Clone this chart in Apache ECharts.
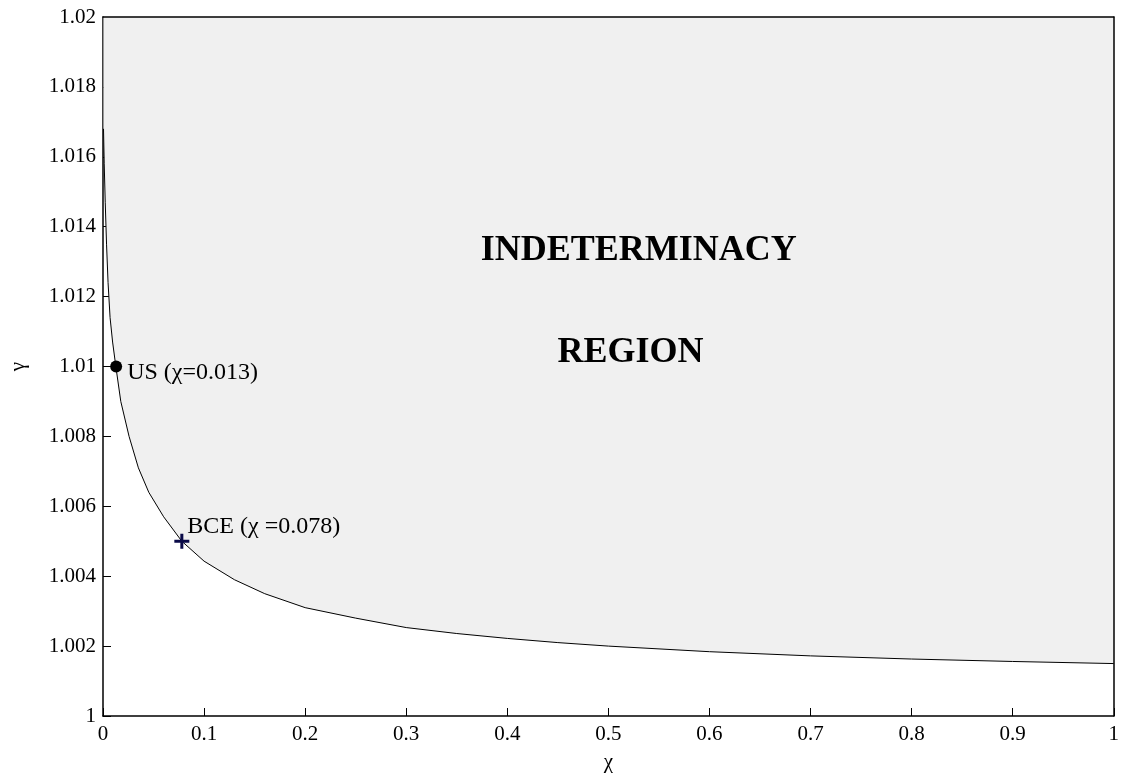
<!DOCTYPE html>
<html>
<head>
<meta charset="utf-8">
<title>Indeterminacy region</title>
<script src="https://cdn.jsdelivr.net/npm/echarts@6/dist/echarts.min.js"></script>
<style>
  html, body { margin: 0; padding: 0; background: #fff; }
  #chart { width: 1122px; height: 779px; }
</style>
</head>
<body>
<div id="chart"></div>
<script>
// boundary curve (chi, gamma)
const curveChi = [
  0.0005, 0.0012, 0.0022, 0.0035, 0.005, 0.007, 0.0095, 0.0127, 0.0176, 0.0258,
  0.035, 0.0453, 0.06, 0.078, 0.1, 0.13, 0.16, 0.2, 0.25, 0.3,
  0.35, 0.4, 0.45, 0.5, 0.6, 0.7, 0.8, 0.9, 1.0
]
const curveGamma = [
  1.0168, 1.0158, 1.0147, 1.0135, 1.0124, 1.0114, 1.0107, 1.0100, 1.0090, 1.0080,
  1.0071, 1.0064, 1.0057, 1.0050, 1.00443, 1.0039, 1.0035, 1.0031, 1.0028, 1.00253,
  1.00236, 1.00222, 1.0021, 1.0020, 1.00184, 1.00172, 1.00163, 1.00156, 1.0015
]

// marked points
const usPoint  = [0.013, 1.01]
const bcePoint = [0.078, 1.005]
const usLabel  = 'US (χ=0.013)'
const bceLabel = 'BCE (χ =0.078)'

// region caption anchors
const regionText = [
  { text: 'INDETERMINACY', at: [0.53, 1.0133] },
  { text: 'REGION', at: [0.522, 1.0104] }
]

// tick labels
const xTickLabels = ['0', '0.1', '0.2', '0.3', '0.4', '0.5', '0.6', '0.7', '0.8', '0.9', '1']
const yTickLabels = ['1', '1.002', '1.004', '1.006', '1.008', '1.01', '1.012', '1.014', '1.016', '1.018', '1.02']

const serif = '"Liberation Serif", "Times New Roman", serif'
const axisLineStyle = { color: '#000', width: 1.5 }

const chart = echarts.init(document.getElementById('chart'))

// ticks sit under the shaded patch (like the original), so main axes stay at low z
const mainX = {
  type: 'value',
  min: 0,
  max: 1,
  interval: 0.1,
  z: 0,
  axisLine: { show: true, onZero: false, lineStyle: axisLineStyle },
  axisTick: { show: true, inside: true, length: 8, lineStyle: { color: '#000', width: 1 } },
  splitLine: { show: false }
}
const mainY = {
  type: 'value',
  min: 1,
  max: 1.02,
  interval: 0.002,
  z: 0,
  axisLine: { show: true, onZero: false, lineStyle: axisLineStyle },
  axisTick: { show: true, inside: true, length: 8, lineStyle: { color: '#000', width: 1 } },
  splitLine: { show: false }
}
// box edges on top/right, drawn above the patch
const boxEdge = {
  type: 'value',
  z: 5,
  axisLine: { show: true, onZero: false, lineStyle: axisLineStyle },
  axisTick: { show: false },
  axisLabel: { show: false },
  splitLine: { show: false }
}

const labelFont = { color: '#000', fontFamily: serif, textBorderWidth: 0, opacity: 1 }

chart.setOption({
  animation: false,
  backgroundColor: '#fff',
  grid: { left: 97, right: 4, top: 17, bottom: 63, containLabel: false },
  xAxis: [
    {
      ...mainX,
      position: 'bottom',
      name: 'χ',
      nameLocation: 'middle',
      nameGap: 36,
      nameTextStyle: { ...labelFont, fontSize: 21 },
      axisLabel: {
        ...labelFont,
        fontSize: 21,
        margin: 8,
        formatter: (v, i) => xTickLabels[i]
      }
    },
    { ...boxEdge, position: 'top', min: 0, max: 1 }
  ],
  yAxis: [
    {
      ...mainY,
      position: 'left',
      name: 'γ',
      nameLocation: 'middle',
      nameRotate: 90,
      nameGap: 74,
      nameTextStyle: { ...labelFont, fontSize: 21 },
      axisLabel: {
        ...labelFont,
        fontSize: 21,
        margin: 7,
        formatter: (v, i) => yTickLabels[i]
      }
    },
    { ...boxEdge, position: 'right', min: 1, max: 1.02 }
  ],
  series: [
    {
      name: 'boundary',
      type: 'line',
      smooth: false,
      showSymbol: false,
      silent: true,
      data: curveChi.map((c, i) => [c, curveGamma[i]]),
      lineStyle: { color: '#000', width: 1 },
      areaStyle: { color: '#f0f0f0', origin: 'end', opacity: 1 },
      z: 2
    },
    {
      name: 'US',
      type: 'scatter',
      data: [usPoint],
      symbol: 'circle',
      symbolSize: 12,
      itemStyle: { color: '#000', opacity: 1 },
      label: {
        show: true,
        position: 'right',
        distance: 5,
        offset: [0, 6],
        formatter: usLabel,
        ...labelFont,
        fontSize: 24
      },
      z: 4
    },
    {
      name: 'BCE',
      type: 'scatter',
      data: [bcePoint],
      symbol: 'path://M4,0h2v4h4v2h-4v4h-2v-4h-4v-2h4z',
      symbolSize: 15,
      itemStyle: { color: '#0a0a48', opacity: 1 },
      label: {
        show: true,
        position: 'right',
        distance: 0,
        offset: [-2, -15],
        formatter: bceLabel,
        ...labelFont,
        fontSize: 24
      },
      z: 4
    },
    {
      name: 'caption',
      type: 'scatter',
      symbolSize: 0,
      silent: true,
      itemStyle: { opacity: 1 },
      data: regionText.map(r => ({ value: r.at, name: r.text })),
      label: {
        show: true,
        position: 'inside',
        formatter: p => p.name,
        ...labelFont,
        fontSize: 36,
        fontWeight: 'bold'
      },
      z: 4
    }
  ]
})

window.addEventListener('resize', () => chart.resize())
</script>
</body>
</html>
